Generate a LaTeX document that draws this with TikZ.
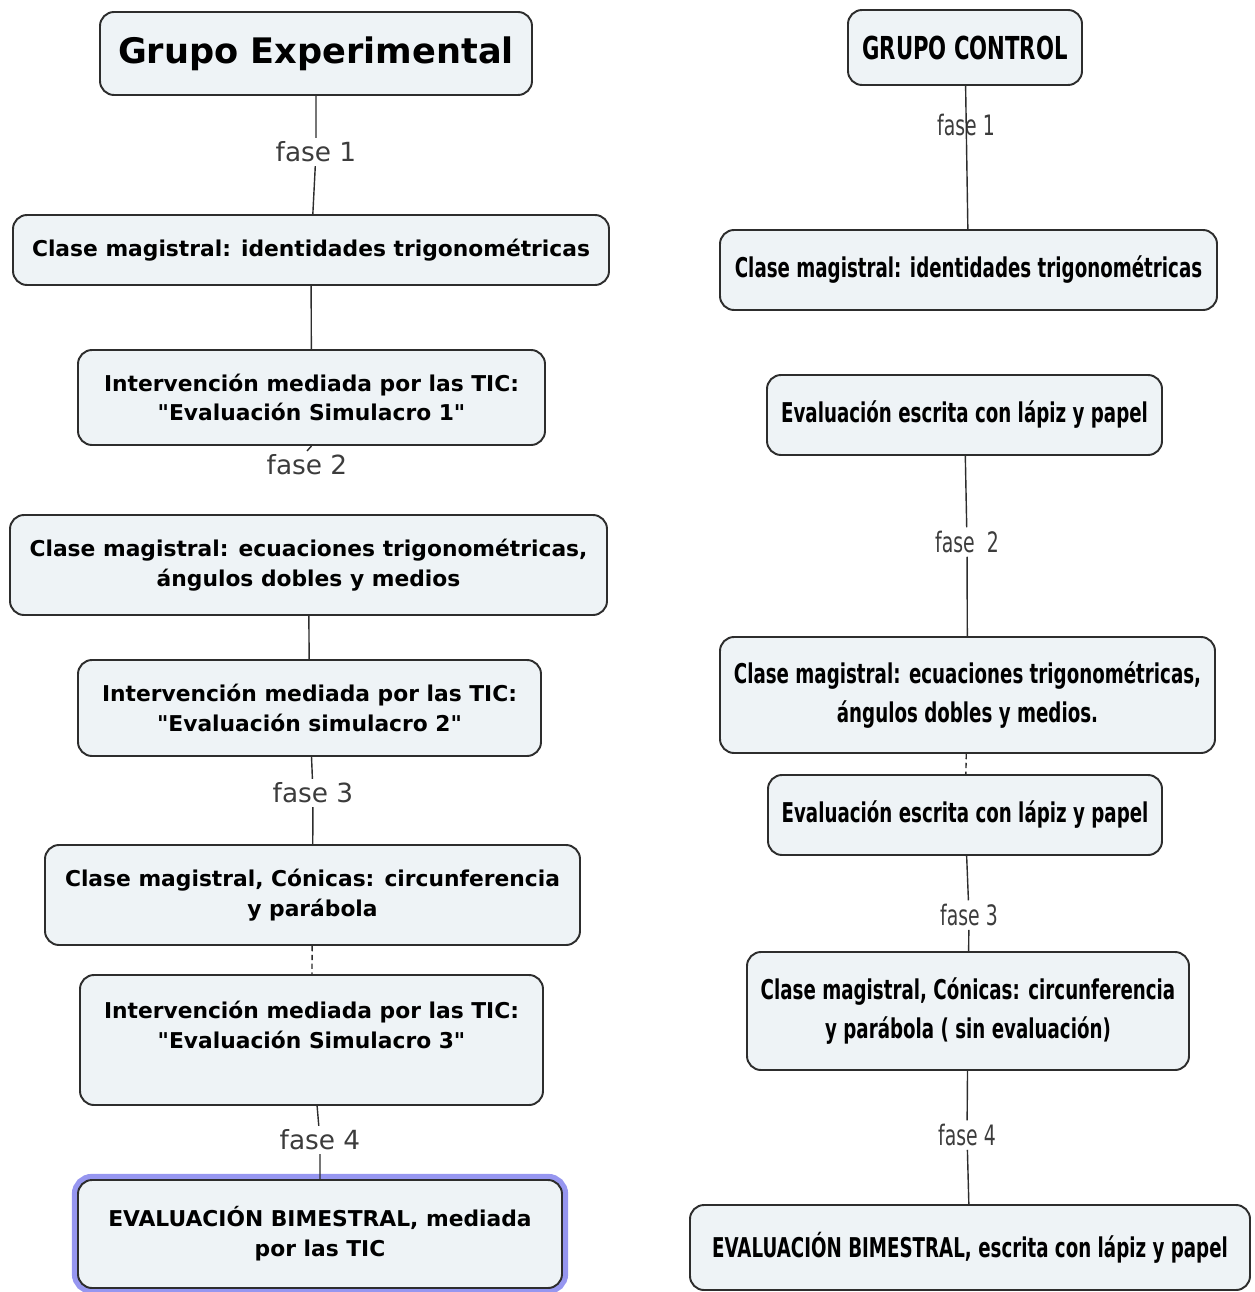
\documentclass[tikz,border=0pt]{standalone}
\usepackage{fontspec}
\setmainfont{DejaVu Sans}
\newfontfamily\narrowfont[FakeStretch=0.67]{DejaVu Sans}
\definecolor{boxfill}{RGB}{238,243,246}
\definecolor{boxline}{RGB}{45,45,45}
\definecolor{glow}{RGB}{150,150,240}
\definecolor{fasegray}{RGB}{60,60,60}

\begin{document}
\begin{tikzpicture}[
    concept/.style={draw=boxline, fill=boxfill, line width=1.1pt, rounded corners=8pt, align=center, inner sep=2pt},
    expbox/.style={concept, font=\bfseries\fontsize{12.4}{17}\selectfont},
    ctrlbox/.style={concept, font=\narrowfont\bfseries\fontsize{15.5}{22}\selectfont},
    fase/.style={text=fasegray, inner sep=2pt, font=\fontsize{15}{17}\selectfont},
    fasectrl/.style={text=fasegray, inner sep=2pt, font=\narrowfont\fontsize{16}{18}\selectfont},
    link/.style={draw=boxline, line width=0.8pt}
]
\useasboundingbox (0,0) rectangle (25.08,-25.84);

% Grupo experimental
\node[expbox, font=\bfseries\fontsize{20}{24}\selectfont, minimum width=8.64cm, minimum height=1.66cm] (ge) at (6.32,-1.07) {Grupo Experimental};
\node[expbox, minimum width=11.92cm, minimum height=1.4cm] (e1) at (6.22,-5.0) {Clase magistral: identidades trigonométricas};
\node[expbox, minimum width=9.34cm, minimum height=1.9cm] (e2) at (6.23,-7.95) {Intervención mediada por las TIC:\\ \textquotedbl Evaluación Simulacro 1\textquotedbl};
\node[expbox, minimum width=11.94cm, minimum height=2.0cm] (e3) at (6.17,-11.3) {Clase magistral: ecuaciones trigonométricas,\\ ángulos dobles y medios};
\node[expbox, minimum width=9.26cm, minimum height=1.92cm] (e4) at (6.19,-14.16) {Intervención mediada por las TIC:\\ \textquotedbl Evaluación simulacro 2\textquotedbl};
\node[expbox, minimum width=10.7cm, minimum height=2.0cm] (e5) at (6.25,-17.9) {Clase magistral, Cónicas: circunferencia\\ y parábola};
\node[expbox, minimum width=9.26cm, minimum height=2.6cm] (e6) at (6.23,-20.8) {Intervención mediada por las TIC:\\ \textquotedbl Evaluación Simulacro 3\textquotedbl\\ \mbox{}};
\node[expbox, minimum width=9.68cm, minimum height=2.16cm, preaction={draw=glow, line width=7pt}] (e7) at (6.4,-24.68) {EVALUACIÓN BIMESTRAL, mediada\\ por las TIC};

\node[fase] (ef1) at (6.32,-3.04) {fase 1};
\node[fase] (ef2) at (6.14,-9.3) {fase 2};
\node[fase] (ef3) at (6.26,-15.86) {fase 3};
\node[fase] (ef4) at (6.4,-22.8) {fase 4};

\draw[link] (ge) -- (ef1) -- (e1);
\draw[link] (e1) -- (e2);
\draw[link] (e2.south) -- (ef2.north);
\draw[link] (e3) -- (e4);
\draw[link] (e4) -- (ef3) -- (e5);
\draw[link, densely dashed] (e5) -- (e6);
\draw[link] (e6) -- (ef4) -- (e7);

% Grupo control
\node[ctrlbox, font=\narrowfont\bfseries\fontsize{18}{22}\selectfont, minimum width=4.68cm, minimum height=1.5cm] (gc) at (19.3,-0.95) {GRUPO CONTROL};
\node[ctrlbox, minimum width=9.94cm, minimum height=1.6cm] (c1) at (19.37,-5.4) {Clase magistral: identidades trigonométricas};
\node[ctrlbox, minimum width=7.9cm, minimum height=1.6cm] (c2) at (19.29,-8.3) {Evaluación escrita con lápiz y papel};
\node[ctrlbox, minimum width=9.9cm, minimum height=2.32cm] (c3) at (19.35,-13.9) {Clase magistral: ecuaciones trigonométricas,\\ ángulos dobles y medios.};
\node[ctrlbox, minimum width=7.88cm, minimum height=1.6cm] (c4) at (19.3,-16.3) {Evaluación escrita con lápiz y papel};
\node[ctrlbox, minimum width=8.84cm, minimum height=2.36cm] (c5) at (19.36,-20.22) {Clase magistral, Cónicas: circunferencia\\ y parábola ( sin evaluación)};
\node[ctrlbox, minimum width=11.2cm, minimum height=1.7cm] (c6) at (19.4,-24.95) {EVALUACIÓN BIMESTRAL, escrita con lápiz y papel};

\node[fasectrl] (cf1) at (19.32,-2.5) {fase 1};
\node[fasectrl] (cf2) at (19.34,-10.84) {fase~~2};
\node[fasectrl] (cf3) at (19.38,-18.3) {fase 3};
\node[fasectrl] (cf4) at (19.34,-22.7) {fase 4};

\draw[link] (gc) -- (c1);
\draw[link] (c2) -- (cf2) -- (c3);
\draw[link, densely dashed] (c3) -- (c4);
\draw[link] (c4) -- (cf3) -- (c5);
\draw[link] (c5) -- (cf4) -- (c6);
\end{tikzpicture}
\end{document}
